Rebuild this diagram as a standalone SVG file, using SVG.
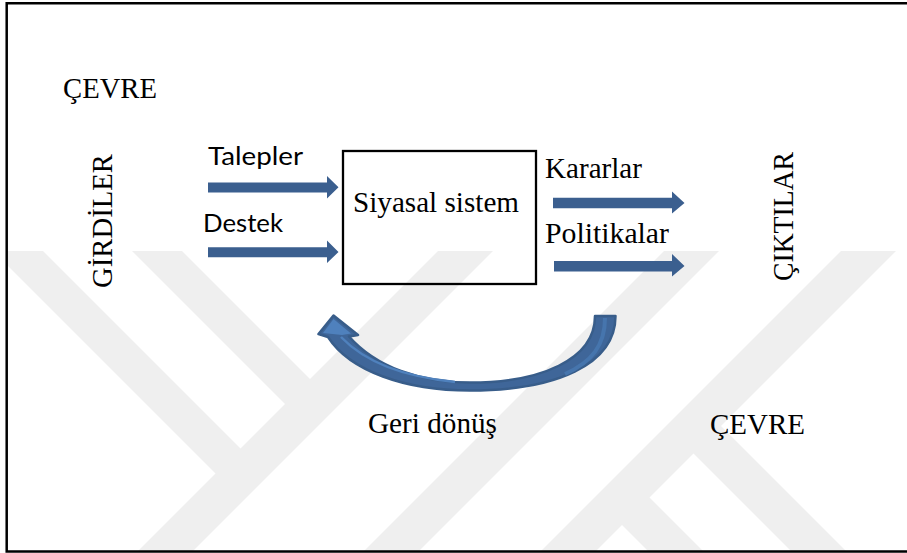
<svg xmlns="http://www.w3.org/2000/svg" width="907" height="553" viewBox="0 0 907 553">
  <defs>
    <style>
      .serif { font-family: "Liberation Serif", "Times New Roman", serif; font-size: 29px; fill: #000; }
      .sans { font-family: Lato, "Liberation Sans", sans-serif; font-size: 25px; fill: #000; }
      .wm { fill: #efefef; }
      .arr { fill: #3b5f8f; }
    </style>
    <clipPath id="wmclip">
      <rect x="7" y="251" width="900" height="300"/>
    </clipPath>
  </defs>
  <rect x="0" y="0" width="907" height="553" fill="#fff"/>

  <g id="watermark" clip-path="url(#wmclip)">
    <polygon class="wm" points="-7,251 43,251 245.5,453.5 220.5,478.5"/>
    <polygon class="wm" points="132,251 182,251 315,384 290,409"/>
    <polygon class="wm" points="438,251 493,251 191,553 136,553"/>
    <polygon class="wm" points="664,251 719,251 417,553 362,553"/>
    <polygon class="wm" points="841,251 896,251 594,553 539,553"/>
    <polygon class="wm" points="618.5,521.5 646,494 705,553 650,553"/>
    <polygon class="wm" points="690,450 717.5,422.5 848,553 793,553"/>
  </g>

  <path id="frame" d="M 907 3.3 L 6.7 3.3 L 6.7 551.5 L 907 551.5" fill="none" stroke="#000" stroke-width="2.5"/>

  <g id="cevre-top"><text class="serif" x="63" y="98" textLength="94" lengthAdjust="spacingAndGlyphs">ÇEVRE</text></g>
  <g id="girdiler"><text class="serif" transform="translate(112,288) rotate(-90)" textLength="134" lengthAdjust="spacingAndGlyphs">GİRDİLER</text></g>
  <g id="ciktilar"><text class="serif" transform="translate(793,281) rotate(-90)" textLength="129" lengthAdjust="spacingAndGlyphs">ÇIKTILAR</text></g>

  <g id="siyasal-sistem">
    <rect x="343" y="151" width="193" height="133" fill="none" stroke="#000" stroke-width="2.3"/>
    <text class="serif" x="353" y="212" textLength="166" lengthAdjust="spacingAndGlyphs">Siyasal sistem</text>
  </g>

  <g id="talepler"><text class="sans" x="208" y="165" textLength="95" lengthAdjust="spacingAndGlyphs">Talepler</text></g>
  <g id="destek"><text class="sans" x="203" y="232" textLength="80" lengthAdjust="spacingAndGlyphs">Destek</text></g>
  <g id="kararlar"><text class="serif" x="545" y="178" textLength="97" lengthAdjust="spacingAndGlyphs">Kararlar</text></g>
  <g id="politikalar"><text class="serif" x="545" y="243" textLength="124" lengthAdjust="spacingAndGlyphs">Politikalar</text></g>
  <g id="geri-donus"><text class="serif" x="368" y="433" textLength="129" lengthAdjust="spacingAndGlyphs">Geri dönüş</text></g>
  <g id="cevre-bottom"><text class="serif" x="710" y="434" textLength="95" lengthAdjust="spacingAndGlyphs">ÇEVRE</text></g>

  <g id="connectors">
    <polygon class="arr" points="208,182.5 327,182.5 327,176 338.5,187.3 327,198.5 327,192.5 208,192.5"/>
    <polygon class="arr" points="208,247.3 327,247.3 327,240.5 338.5,252 327,263 327,257.3 208,257.3"/>
    <polygon class="arr" points="553,197.8 672,197.8 672,191.5 684.5,203 672,213.5 672,208.3 553,208.3"/>
    <polygon class="arr" points="554,261 672,261 672,254 684.5,266 672,276.5 672,271.5 554,271.5"/>
    <g id="feedback">
      <path d="M 333.5 315.5 L 358 335 L 349 336.5 C 376 367, 420 382.5, 470 382.5 C 540 382.5, 595 360, 595 316 L 615.5 316 C 615.5 365, 555 390.5, 470 390.5 C 405 390.5, 350 371, 328 337 L 318.5 334 Z" fill="#3f6699" stroke="#385d8a" stroke-width="2.5" stroke-linejoin="round"/>
      <path d="M 333.5 319 L 351 333.5 L 342 335 L 323 333 Z" fill="#4f81bd"/>
      <path d="M 341 337 C 365 362, 405 377, 455 382" fill="none" stroke="#4f81bd" stroke-width="2.5"/>
      <path d="M 605 318 C 605 345, 592 362, 565 374" fill="none" stroke="#4675ad" stroke-width="4"/>
    </g>
  </g>
</svg>
